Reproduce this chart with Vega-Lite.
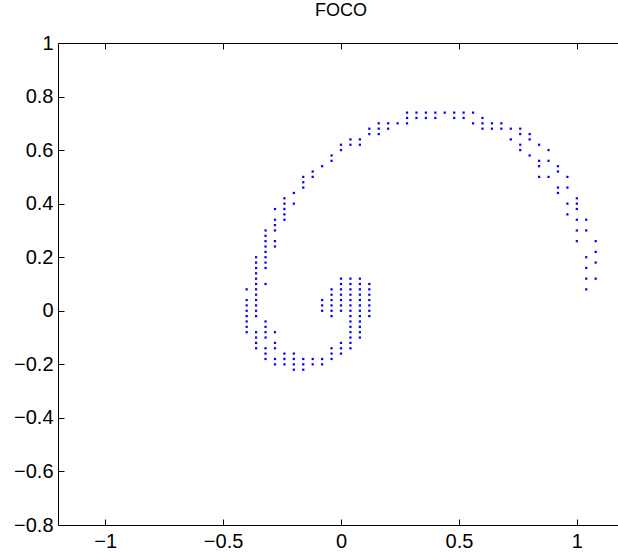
{
  "$schema": "https://vega.github.io/schema/vega-lite/v6.json",
  "width": 560,
  "height": 482,
  "autosize": {"type": "none"},
  "padding": {"left": 58, "top": 43, "right": 0, "bottom": 27},
  "title": {"text": "FOCO", "fontSize": 18, "font": "Liberation Sans", "fontWeight": "normal", "anchor": "middle", "offset": 13, "dx": 3, "color": "black"},
  "config": {
    "view": {"stroke": null},
    "axis": {"grid": false, "domainColor": "black", "tickColor": "black", "labelColor": "black", "labelFont": "Liberation Sans", "labelFontSize": 20, "domainWidth": 1, "tickWidth": 1}
  },
  "data": {"values": [
    {"x":0.28,"y":0.74},{"x":0.32,"y":0.74},{"x":0.36,"y":0.74},{"x":0.40,"y":0.74},{"x":0.44,"y":0.74},{"x":0.48,"y":0.74},{"x":0.52,"y":0.74},{"x":0.56,"y":0.74},
    {"x":0.28,"y":0.72},{"x":0.32,"y":0.72},{"x":0.36,"y":0.72},{"x":0.40,"y":0.72},{"x":0.48,"y":0.72},{"x":0.52,"y":0.72},{"x":0.60,"y":0.72},
    {"x":0.16,"y":0.70},{"x":0.20,"y":0.70},{"x":0.24,"y":0.70},{"x":0.28,"y":0.70},{"x":0.56,"y":0.70},{"x":0.60,"y":0.70},{"x":0.64,"y":0.70},{"x":0.68,"y":0.70},
    {"x":0.12,"y":0.68},{"x":0.16,"y":0.68},{"x":0.20,"y":0.68},{"x":0.60,"y":0.68},{"x":0.64,"y":0.68},{"x":0.68,"y":0.68},{"x":0.72,"y":0.68},{"x":0.76,"y":0.68},
    {"x":0.12,"y":0.66},{"x":0.16,"y":0.66},{"x":0.76,"y":0.66},{"x":0.80,"y":0.66},
    {"x":0.04,"y":0.64},{"x":0.08,"y":0.64},{"x":0.72,"y":0.64},{"x":0.80,"y":0.64},
    {"x":0.00,"y":0.62},{"x":0.04,"y":0.62},{"x":0.08,"y":0.62},{"x":0.76,"y":0.62},{"x":0.84,"y":0.62},
    {"x":0.00,"y":0.60},{"x":0.76,"y":0.60},{"x":0.88,"y":0.60},
    {"x":-0.04,"y":0.58},{"x":0.80,"y":0.58},
    {"x":-0.04,"y":0.56},{"x":0.84,"y":0.56},{"x":0.88,"y":0.56},
    {"x":-0.08,"y":0.54},{"x":0.84,"y":0.54},{"x":0.92,"y":0.54},
    {"x":-0.12,"y":0.52},{"x":0.92,"y":0.52},
    {"x":-0.16,"y":0.50},{"x":-0.12,"y":0.50},{"x":0.84,"y":0.50},{"x":0.88,"y":0.50},{"x":0.96,"y":0.50},
    {"x":-0.16,"y":0.48},
    {"x":-0.16,"y":0.46},{"x":0.92,"y":0.46},{"x":0.96,"y":0.46},
    {"x":-0.20,"y":0.44},{"x":0.92,"y":0.44},
    {"x":-0.24,"y":0.42},{"x":1.00,"y":0.42},
    {"x":-0.24,"y":0.40},{"x":-0.20,"y":0.40},{"x":0.96,"y":0.40},{"x":1.00,"y":0.40},
    {"x":-0.28,"y":0.38},{"x":-0.24,"y":0.38},{"x":1.00,"y":0.38},
    {"x":-0.24,"y":0.36},{"x":0.96,"y":0.36},
    {"x":-0.28,"y":0.34},{"x":-0.24,"y":0.34},{"x":1.00,"y":0.34},{"x":1.04,"y":0.34},
    {"x":-0.28,"y":0.32},
    {"x":-0.32,"y":0.30},{"x":-0.28,"y":0.30},{"x":1.00,"y":0.30},{"x":1.04,"y":0.30},
    {"x":-0.32,"y":0.28},
    {"x":-0.32,"y":0.26},{"x":-0.28,"y":0.26},{"x":1.00,"y":0.26},{"x":1.08,"y":0.26},
    {"x":-0.32,"y":0.24},{"x":-0.28,"y":0.24},
    {"x":-0.32,"y":0.22},{"x":1.08,"y":0.22},
    {"x":-0.36,"y":0.20},{"x":-0.32,"y":0.20},{"x":1.04,"y":0.20},
    {"x":-0.36,"y":0.18},{"x":-0.32,"y":0.18},{"x":1.08,"y":0.18},
    {"x":-0.36,"y":0.16},{"x":-0.32,"y":0.16},{"x":1.04,"y":0.16},
    {"x":-0.36,"y":0.14},
    {"x":-0.36,"y":0.12},{"x":0.00,"y":0.12},{"x":0.04,"y":0.12},{"x":0.08,"y":0.12},{"x":1.04,"y":0.12},{"x":1.08,"y":0.12},
    {"x":-0.36,"y":0.10},{"x":-0.32,"y":0.10},{"x":0.00,"y":0.10},{"x":0.04,"y":0.10},{"x":0.08,"y":0.10},{"x":0.12,"y":0.10},
    {"x":-0.40,"y":0.08},{"x":-0.36,"y":0.08},{"x":-0.04,"y":0.08},{"x":0.00,"y":0.08},{"x":0.04,"y":0.08},{"x":0.08,"y":0.08},{"x":0.12,"y":0.08},{"x":1.04,"y":0.08},
    {"x":-0.36,"y":0.06},{"x":-0.04,"y":0.06},{"x":0.00,"y":0.06},{"x":0.04,"y":0.06},{"x":0.08,"y":0.06},{"x":0.12,"y":0.06},
    {"x":-0.40,"y":0.04},{"x":-0.36,"y":0.04},{"x":-0.08,"y":0.04},{"x":-0.04,"y":0.04},{"x":0.00,"y":0.04},{"x":0.04,"y":0.04},{"x":0.08,"y":0.04},{"x":0.12,"y":0.04},
    {"x":-0.40,"y":0.02},{"x":-0.36,"y":0.02},{"x":-0.08,"y":0.02},{"x":-0.04,"y":0.02},{"x":0.00,"y":0.02},{"x":0.04,"y":0.02},{"x":0.08,"y":0.02},{"x":0.12,"y":0.02},
    {"x":-0.40,"y":0.00},{"x":-0.36,"y":0.00},{"x":-0.08,"y":0.00},{"x":-0.04,"y":0.00},{"x":0.00,"y":0.00},{"x":0.04,"y":0.00},{"x":0.08,"y":0.00},{"x":0.12,"y":0.00},
    {"x":-0.40,"y":-0.02},{"x":-0.36,"y":-0.02},{"x":-0.04,"y":-0.02},{"x":0.04,"y":-0.02},{"x":0.08,"y":-0.02},{"x":0.12,"y":-0.02},
    {"x":-0.40,"y":-0.04},{"x":-0.32,"y":-0.04},{"x":0.04,"y":-0.04},{"x":0.08,"y":-0.04},
    {"x":-0.40,"y":-0.06},{"x":-0.32,"y":-0.06},{"x":0.04,"y":-0.06},{"x":0.08,"y":-0.06},
    {"x":-0.40,"y":-0.08},{"x":-0.36,"y":-0.08},{"x":-0.32,"y":-0.08},{"x":-0.28,"y":-0.08},{"x":0.04,"y":-0.08},{"x":0.08,"y":-0.08},
    {"x":-0.36,"y":-0.10},{"x":-0.32,"y":-0.10},{"x":0.04,"y":-0.10},{"x":0.08,"y":-0.10},
    {"x":-0.36,"y":-0.12},{"x":-0.28,"y":-0.12},{"x":0.00,"y":-0.12},{"x":0.04,"y":-0.12},
    {"x":-0.36,"y":-0.14},{"x":-0.32,"y":-0.14},{"x":-0.28,"y":-0.14},{"x":-0.04,"y":-0.14},{"x":0.00,"y":-0.14},{"x":0.04,"y":-0.14},
    {"x":-0.32,"y":-0.16},{"x":-0.24,"y":-0.16},{"x":-0.20,"y":-0.16},{"x":-0.04,"y":-0.16},{"x":0.00,"y":-0.16},
    {"x":-0.32,"y":-0.18},{"x":-0.28,"y":-0.18},{"x":-0.24,"y":-0.18},{"x":-0.20,"y":-0.18},{"x":-0.16,"y":-0.18},{"x":-0.12,"y":-0.18},{"x":-0.08,"y":-0.18},{"x":-0.04,"y":-0.18},
    {"x":-0.28,"y":-0.20},{"x":-0.24,"y":-0.20},{"x":-0.20,"y":-0.20},{"x":-0.16,"y":-0.20},{"x":-0.12,"y":-0.20},{"x":-0.08,"y":-0.20},
    {"x":-0.20,"y":-0.22},{"x":-0.16,"y":-0.22}
  ]},
  "layer": [
    {
      "mark": {"type": "point", "filled": true, "shape": "square", "size": 5, "color": "#0000ff", "opacity": 1},
      "encoding": {
        "x": {"field": "x", "type": "quantitative", "scale": {"domain": [-1.2, 1.1746], "nice": false, "zero": false},
              "axis": {"orient": "bottom", "values": [-1, -0.5, 0, 0.5, 1], "format": "~g", "title": null, "tickSize": -6, "labelPadding": 12}},
        "y": {"field": "y", "type": "quantitative", "scale": {"domain": [-0.8, 1], "nice": false, "zero": false},
              "axis": {"values": [-0.8, -0.6, -0.4, -0.2, 0, 0.2, 0.4, 0.6, 0.8, 1], "format": "~g", "title": null, "tickSize": -6, "labelPadding": 11}}
      }
    },
    {
      "mark": {"type": "point", "opacity": 0},
      "encoding": {
        "x": {"field": "x", "type": "quantitative",
              "axis": {"orient": "top", "labels": false, "values": [-1, -0.5, 0, 0.5, 1], "title": null, "tickSize": -6}}
      }
    }
  ],
  "resolve": {"axis": {"x": "independent"}}
}
